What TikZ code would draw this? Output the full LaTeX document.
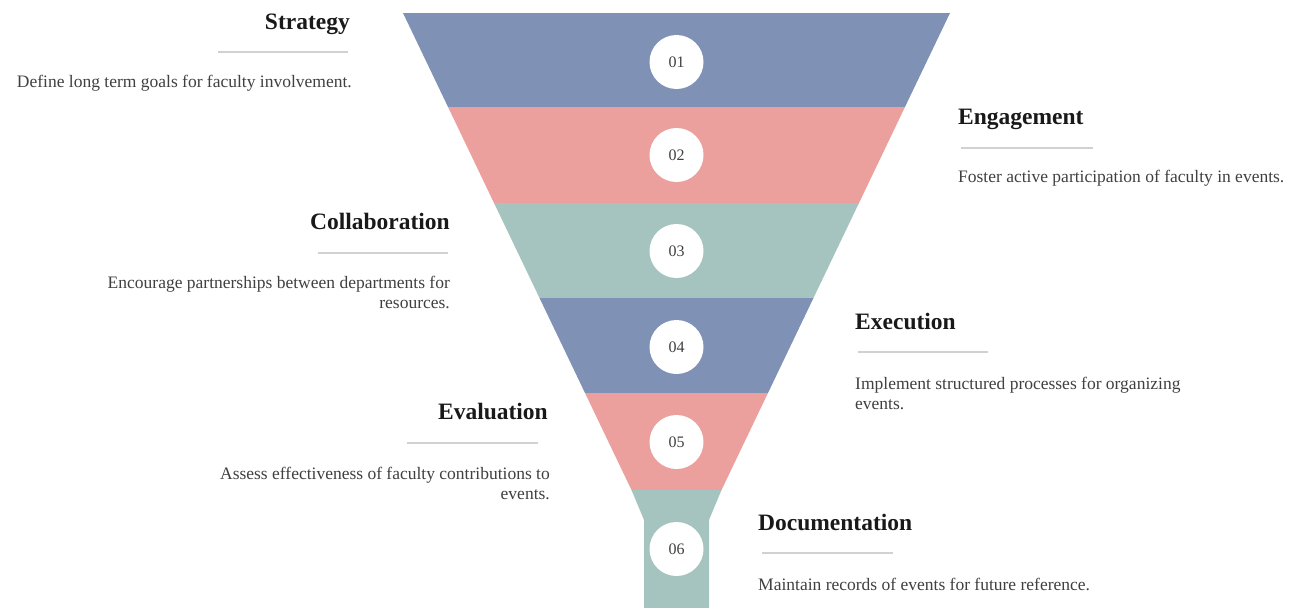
\documentclass[tikz,border=0pt]{standalone}
\usepackage{fontspec}
\setmainfont{Liberation Serif}
\usepackage[svgnames]{xcolor}
\usetikzlibrary{positioning}

\definecolor{entonnoirBleu}{RGB}{127,146,182}
\definecolor{entonnoirRose}{RGB}{236,160,158}
\definecolor{entonnoirVert}{RGB}{166,196,191}

\begin{document}
\begin{tikzpicture}[x=1pt,y=-1pt,
	numero/.style={circle,fill=white,minimum size=54pt,inner sep=0pt,font=\fontsize{16}{16}\selectfont,text=black!75},
	titre/.style={inner sep=0pt,font=\fontsize{23.5}{26}\selectfont\bfseries,text=black!90},
	texte/.style={inner sep=0pt,font=\fontsize{17.5}{20}\selectfont,text=black!75},
	filet/.style={draw=black!18,line width=1.2pt}]
	%
	% Cadre
	\useasboundingbox (0,0) rectangle (1294,608);
	%
	% Entonnoir
	\def\entonnoirX{676.5}
	\foreach \ya/\yb/\coul in {13/107/entonnoirBleu,107/203/entonnoirRose,203/298/entonnoirVert,298/393/entonnoirBleu,393/490/entonnoirRose}{
		\pgfmathsetmacro\la{273.5-0.479*(\ya-13)}
		\pgfmathsetmacro\lb{273.5-0.479*(\yb-13)}
		\fill[\coul] (\entonnoirX-\la,\ya) -- (\entonnoirX+\la,\ya) -- (\entonnoirX+\lb,\yb) -- (\entonnoirX-\lb,\yb) -- cycle;
	}
	% Col
	\fill[entonnoirVert] (\entonnoirX-45,490) -- (\entonnoirX+45,490) -- (\entonnoirX+32.5,520) -- (\entonnoirX+32.5,608) -- (\entonnoirX-32.5,608) -- (\entonnoirX-32.5,520) -- cycle;
	%
	% Pastilles
	\foreach \num/\y in {1/62,2/155,3/251,4/347,5/442,6/549}
		\node[numero] (n\num) at (\entonnoirX,\y) {0\num};
	%
	% Strategy
	\node[titre,anchor=base east] (strategy) at (350,29) {Strategy};
	\draw[filet] (218,52) -- (348,52);
	\node[texte,anchor=base east] (strategyTxt) at (352,87) {Define long term goals for faculty involvement.};
	%
	% Engagement
	\node[titre,anchor=base west] (engagement) at (958,124) {Engagement};
	\draw[filet] (961,148) -- (1093,148);
	\node[texte,anchor=base west] (engagementTxt) at (958,182) {Foster active participation of faculty in events.};
	%
	% Collaboration
	\node[titre,anchor=base east] (collaboration) at (450,229) {Collaboration};
	\draw[filet] (318,253) -- (448,253);
	\node[texte,anchor=base east,align=right] (collaborationTxt) at (450,308) {Encourage partnerships between departments for\\resources.};
	%
	% Execution
	\node[titre,anchor=base west] (execution) at (855,329) {Execution};
	\draw[filet] (858,352) -- (988,352);
	\node[texte,anchor=base west,align=left] (executionTxt) at (855,409) {Implement structured processes for organizing\\events.};
	%
	% Evaluation
	\node[titre,anchor=base east] (evaluation) at (548,419) {Evaluation};
	\draw[filet] (407,443) -- (538,443);
	\node[texte,anchor=base east,align=right] (evaluationTxt) at (550,499) {Assess effectiveness of faculty contributions to\\events.};
	%
	% Documentation
	\node[titre,anchor=base west] (documentation) at (758,530) {Documentation};
	\draw[filet] (762,553) -- (893,553);
	\node[texte,anchor=base west] (documentationTxt) at (758,590) {Maintain records of events for future reference.};
\end{tikzpicture}
\end{document}
